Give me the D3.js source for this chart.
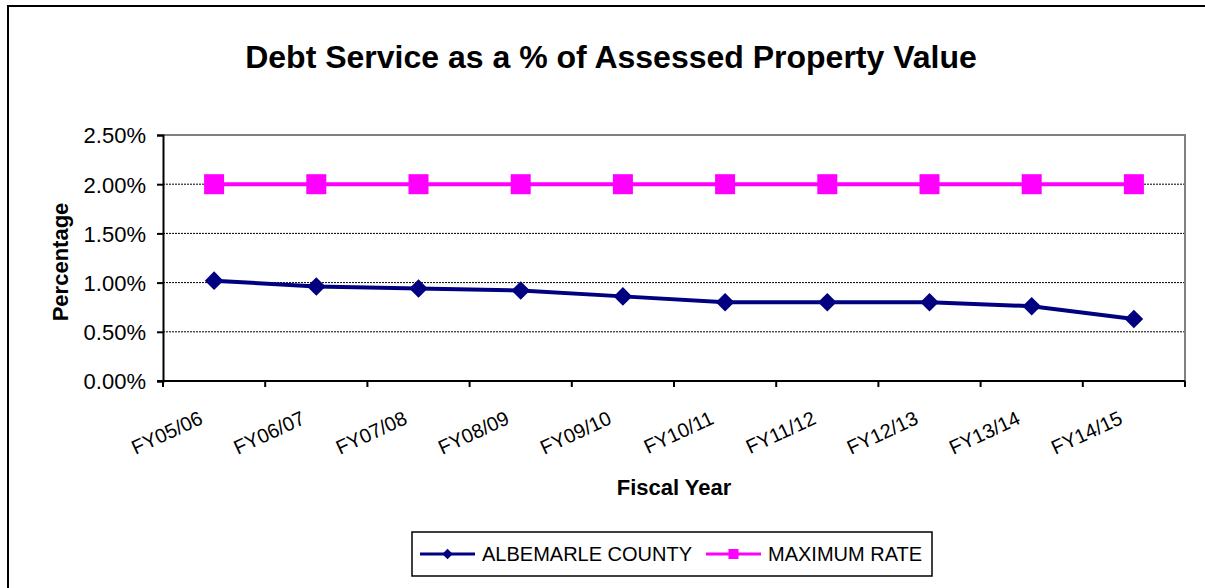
<!DOCTYPE html>
<html>
<head>
<meta charset="utf-8">
<script src="https://cdn.jsdelivr.net/npm/d3@7"></script>
<style>
  body { margin: 0; background: #fff; }
  svg { display: block; font-family: "Liberation Sans", Arial, sans-serif; }
</style>
</head>
<body>
<div class="canvas"></div>
<script>
const years = ["FY05/06", "FY06/07", "FY07/08", "FY08/09", "FY09/10",
  "FY10/11", "FY11/12", "FY12/13", "FY13/14", "FY14/15"];
const albemarle = [0.0102, 0.0096, 0.0094, 0.0092, 0.0086, 0.008, 0.008, 0.008, 0.0076, 0.0063];
const maximumRate = [0.02, 0.02, 0.02, 0.02, 0.02, 0.02, 0.02, 0.02, 0.02, 0.02];
const yTicks = [0, 0.005, 0.01, 0.015, 0.02, 0.025];

const W = 1205, H = 588;
const plot = { left: 163, right: 1185, top: 135, bottom: 381 };
const font = "Liberation Sans, Arial, sans-serif";

const svg = d3.select(".canvas").append("svg")
  .attr("width", W).attr("height", H);

// outer chart border (clipped at right/bottom like the source)
svg.append("rect")
  .attr("x", 8).attr("y", 6)
  .attr("width", W + 20).attr("height", H + 20)
  .attr("fill", "#fff").attr("stroke", "#000").attr("stroke-width", 2);

const x = d3.scaleBand().domain(years).range([plot.left, plot.right]).padding(0);
const y = d3.scaleLinear().domain([0, 0.025]).range([plot.bottom, plot.top]);
const cx = (d) => x(d) + x.bandwidth() / 2;

// gridlines
svg.append("g")
  .selectAll("line")
  .data(yTicks.filter((t) => t > 0 && t < 0.025))
  .join("line")
  .attr("x1", plot.left).attr("x2", plot.right)
  .attr("y1", (d) => y(d)).attr("y2", (d) => y(d))
  .attr("stroke", "#000").attr("stroke-width", 1)
  .attr("stroke-dasharray", "2,1");

// plot area top/right border
svg.append("path")
  .attr("d", `M${plot.left},${plot.top}H${plot.right}V${plot.bottom}`)
  .attr("fill", "none").attr("stroke", "#808080").attr("stroke-width", 2);

// y axis
const yAxis = d3.axisLeft(y).tickValues(yTicks).tickFormat(d3.format(".2%")).tickSize(6).tickPadding(11);
const gy = svg.append("g").attr("transform", `translate(${plot.left},0)`).call(yAxis);
gy.select(".domain").attr("stroke-width", 2);
gy.selectAll(".tick line").attr("stroke-width", 2);
gy.selectAll("text").attr("font-size", 22).attr("fill", "#000")
  .attr("font-family", font).attr("dy", "0.36em");

// x axis: ticks on category boundaries
const gx = svg.append("g").attr("transform", `translate(0,${plot.bottom})`);
gx.append("line")
  .attr("x1", plot.left - 6).attr("x2", plot.right)
  .attr("stroke", "#000").attr("stroke-width", 2);
gx.selectAll(".bt")
  .data(years.map((d) => x(d)).concat([plot.right]))
  .join("line")
  .attr("x1", (d) => d).attr("x2", (d) => d)
  .attr("y1", 0).attr("y2", 6)
  .attr("stroke", "#000").attr("stroke-width", 2);
gx.selectAll("text")
  .data(years)
  .join("text")
  .attr("transform", (d) => `translate(${cx(d) - 10},${42}) rotate(-25)`)
  .attr("text-anchor", "end")
  .attr("font-size", 20)
  .text((d) => d);

// titles
svg.append("text")
  .attr("x", 611).attr("y", 68)
  .attr("text-anchor", "middle")
  .attr("font-size", 32).attr("font-weight", "bold")
  .text("Debt Service as a % of Assessed Property Value");

svg.append("text")
  .attr("transform", `translate(68,${262}) rotate(-90)`)
  .attr("text-anchor", "middle")
  .attr("font-size", 22).attr("font-weight", "bold")
  .text("Percentage");

svg.append("text")
  .attr("x", 674).attr("y", 495)
  .attr("text-anchor", "middle")
  .attr("font-size", 22).attr("font-weight", "bold")
  .text("Fiscal Year");

// series
const line = d3.line().x((d, i) => cx(years[i])).y((d) => y(d));
const diamond = d3.symbol().type(d3.symbolDiamond2).size(220);

svg.append("path").datum(maximumRate)
  .attr("d", line).attr("fill", "none")
  .attr("stroke", "#ff00ff").attr("stroke-width", 4);
svg.append("g").selectAll("rect")
  .data(maximumRate)
  .join("rect")
  .attr("x", (d, i) => cx(years[i]) - 10)
  .attr("y", (d) => y(d) - 10)
  .attr("width", 20).attr("height", 20)
  .attr("fill", "#ff00ff");

svg.append("path").datum(albemarle)
  .attr("d", line).attr("fill", "none")
  .attr("stroke", "#000080").attr("stroke-width", 4);
svg.append("g").selectAll("path")
  .data(albemarle)
  .join("path")
  .attr("d", diamond)
  .attr("transform", (d, i) => `translate(${cx(years[i])},${y(d)})`)
  .attr("fill", "#000080");

// legend
const legend = svg.append("g").attr("transform", "translate(412,532)");
legend.append("rect")
  .attr("width", 520).attr("height", 44)
  .attr("fill", "#fff").attr("stroke", "#000").attr("stroke-width", 1.5);

const items = [
  { name: "ALBEMARLE COUNTY", color: "#000080", x0: 8, shape: "diamond" },
  { name: "MAXIMUM RATE", color: "#ff00ff", x0: 294, shape: "square" }
];
items.forEach((it) => {
  const g = legend.append("g").attr("transform", `translate(${it.x0},22)`);
  g.append("line").attr("x1", 0).attr("x2", 55)
    .attr("stroke", it.color).attr("stroke-width", 3);
  if (it.shape === "diamond") {
    g.append("path").attr("d", d3.symbol().type(d3.symbolDiamond2).size(70)())
      .attr("transform", "translate(27.5,0)").attr("fill", it.color);
  } else {
    g.append("rect").attr("x", 22.5).attr("y", -5).attr("width", 10).attr("height", 10)
      .attr("fill", it.color);
  }
  g.append("text").attr("x", 62).attr("y", 7)
    .attr("font-size", 20).text(it.name);
});
</script>
</body>
</html>
